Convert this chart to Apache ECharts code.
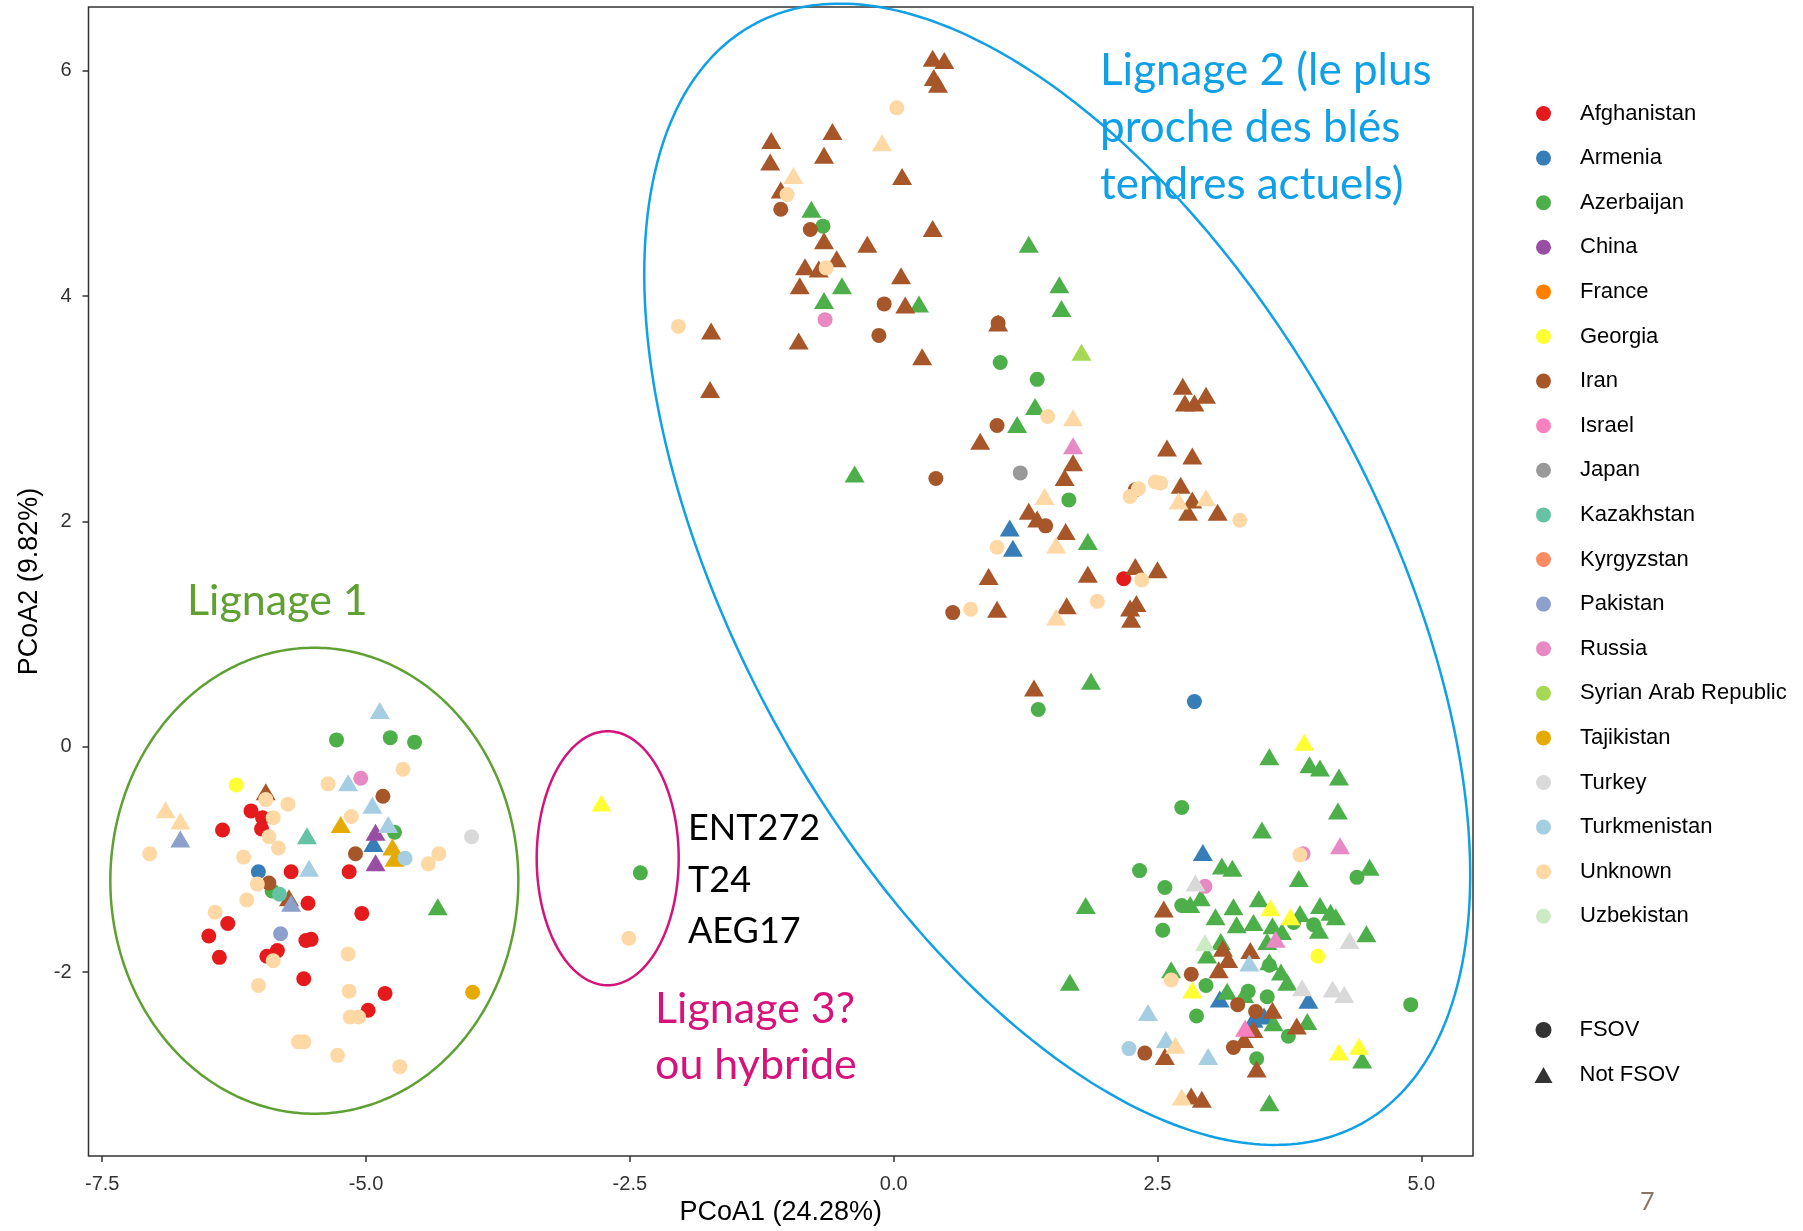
<!DOCTYPE html>
<html>
<head>
<meta charset="utf-8">
<script src="https://cdn.jsdelivr.net/npm/echarts@6/dist/echarts.min.js"></script>
<style>
  html, body { margin: 0; padding: 0; background: #fff; }
  #chart { width: 1803px; height: 1231px; }
</style>
</head>
<body>
<div id="chart"></div>
<script>
// PCoA scores: [PCoA1, PCoA2, notFsov] (0 = FSOV circle, 1 = Not FSOV triangle)
const afghanistan = [[-6.36,-0.74,0],[-6.09,-0.57,0],[-5.98,-0.63,0],[-5.99,-0.73,0],[-5.71,-1.11,0],[-5.16,-1.11,0],
  [-5.55,-1.39,0],[-5.04,-1.48,0],[-6.31,-1.57,0],[-6.49,-1.68,0],[-5.57,-1.72,0],[-5.52,-1.71,0],[-6.39,-1.87,0],
  [-5.84,-1.81,0],[-5.94,-1.86,0],[-5.59,-2.06,0],[-4.82,-2.19,0],[-4.98,-2.34,0],[2.18,1.49,0]];
const armenia = [[-6.02,-1.11,0],[-4.93,-0.86,1],[1.10,1.94,1],[1.13,1.76,1],[2.85,0.40,0],[2.93,-0.94,1],
  [3.09,-2.24,1],[3.93,-2.25,1],[3.41,-2.42,1],[3.51,-2.39,1]];
const azerbaijan = [[-5.28,0.06,0],[-4.77,0.08,0],[-4.54,0.04,0],[-4.73,-0.76,0],[-5.89,-1.28,0],[-2.40,-1.12,0],
  [-0.67,4.62,0],[1.01,3.41,0],[1.36,3.26,0],[1.66,2.19,0],[1.37,0.33,0],[2.73,-0.54,0],[2.33,-1.10,0],[2.57,-1.25,0],
  [2.73,-1.41,0],[2.55,-1.63,0],[2.96,-2.12,0],[2.87,-2.39,0],[4.39,-1.16,0],[3.79,-1.56,0],[3.98,-1.58,0],
  [3.56,-1.94,0],[4.90,-2.29,0],[3.54,-2.22,0],[3.36,-2.17,0],[3.74,-2.57,0],[3.44,-2.77,0],
  [-4.32,-1.42,1],[-0.78,4.77,1],[-0.49,4.09,1],[-0.66,3.96,1],[0.24,3.93,1],[1.28,4.46,1],[1.34,3.02,1],
  [1.17,2.86,1],[-0.37,2.42,1],[1.57,4.10,1],[1.59,3.89,1],[1.84,1.82,1],[1.87,0.58,1],[3.11,-1.06,1],
  [3.21,-1.08,1],[1.82,-1.41,1],[2.81,-1.40,1],[2.91,-1.34,1],[3.05,-1.51,1],[3.22,-1.42,1],[3.25,-1.58,1],
  [3.10,-1.73,1],[2.97,-1.85,1],[2.63,-1.98,1],[3.16,-2.17,1],[1.67,-2.09,1],[3.56,-0.09,1],[3.94,-0.16,1],
  [4.04,-0.19,1],[4.22,-0.27,1],[4.21,-0.57,1],[3.49,-0.74,1],[4.51,-1.07,1],[3.84,-1.17,1],[3.46,-1.35,1],
  [4.04,-1.41,1],[4.14,-1.47,1],[4.19,-1.51,1],[3.85,-1.48,1],[3.41,-1.56,1],[3.59,-1.59,1],[3.68,-1.64,1],
  [4.03,-1.63,1],[3.54,-1.73,1],[4.48,-1.66,1],[3.56,-1.91,1],[3.67,-2.00,1],[3.73,-2.09,1],[3.32,-2.20,1],
  [3.60,-2.45,1],[3.92,-2.44,1],[3.56,-3.16,1],[4.44,-2.78,1]];
const china = [[-4.91,-0.76,1],[-4.91,-1.03,1]];
const france = [];
const georgia = [[-6.23,-0.34,0],[-2.77,-0.50,1],[2.83,-2.16,1],[3.89,0.04,1],[3.57,-1.43,1],[3.76,-1.51,1],
  [4.22,-2.71,1],[4.41,-2.66,1],[4.02,-1.86,0]];
const iran = [[-4.84,-0.44,0],[-5.10,-0.95,0],[-5.92,-1.21,0],[-1.07,4.77,0],[-0.79,4.59,0],[-0.09,3.93,0],
  [-0.14,3.65,0],[0.99,3.76,0],[0.98,2.85,0],[0.40,2.38,0],[1.44,1.96,0],[2.29,2.28,0],[0.56,1.19,0],
  [2.82,-2.02,0],[2.38,-2.72,0],[3.22,-2.67,0],[3.26,-2.29,0],[3.43,-2.35,0],
  [-5.95,-0.40,1],[-5.73,-1.34,1],[0.37,6.11,1],[0.48,6.09,1],[0.38,5.94,1],[0.42,5.88,1],[-0.58,5.46,1],
  [-1.16,5.38,1],[-0.66,5.25,1],[-1.17,5.19,1],[0.08,5.06,1],[-1.07,4.94,1],[-0.66,4.49,1],[0.37,4.60,1],
  [-0.25,4.46,1],[-0.54,4.33,1],[-0.84,4.26,1],[-0.71,4.24,1],[-0.89,4.09,1],[0.07,4.18,1],[0.11,3.92,1],
  [-1.73,3.69,1],[-0.90,3.60,1],[0.99,3.76,1],[0.27,3.46,1],[-1.74,3.17,1],[0.82,2.71,1],[1.70,2.52,1],
  [1.62,2.39,1],[1.28,2.09,1],[1.36,2.02,1],[1.63,1.91,1],[2.74,3.20,1],[2.96,3.12,1],[2.76,3.05,1],
  [2.85,3.05,1],[2.59,2.65,1],[2.83,2.58,1],[2.72,2.32,1],[2.83,2.19,1],[2.79,2.08,1],[3.07,2.08,1],
  [2.29,1.60,1],[2.50,1.57,1],[1.84,1.53,1],[0.90,1.51,1],[0.98,1.22,1],[1.64,1.25,1],[2.30,1.27,1],
  [2.24,1.23,1],[2.25,1.13,1],[1.33,0.52,1],[2.56,-1.44,1],[3.12,-1.79,1],[3.17,-1.89,1],[3.08,-1.98,1],
  [2.57,-2.75,1],[2.82,-3.10,1],[2.92,-3.13,1],[3.38,-1.81,1],[3.59,-2.34,1],[3.41,-2.51,1],[3.82,-2.48,1],
  [3.32,-2.60,1],[3.44,-2.86,1]];
const israel = [[3.33,-2.50,1]];
const japan = [[1.20,2.43,0]];
const kazakhstan = [[-5.56,-0.79,1],[-5.82,-1.31,0]];
const kyrgyzstan = [];
const pakistan = [[-6.76,-0.82,1],[-5.71,-1.39,1],[-5.81,-1.66,0]];
const russia = [[-5.05,-0.28,0],[-0.65,3.79,0],[1.70,2.67,1],[4.23,-0.88,1],[2.95,-1.24,0],[3.88,-0.95,0],[3.62,-1.71,1]];
const syria = [[1.78,3.50,1]];
const tajikistan = [[-5.24,-0.69,1],[-4.75,-0.89,1],[-4.73,-0.99,1],[-3.99,-2.18,0]];
const turkey = [[-4.00,-0.80,0],[2.86,-1.21,1],[4.32,-1.72,1],[3.87,-2.14,1],[4.16,-2.15,1],[4.27,-2.20,1]];
const turkmenistan = [[-4.87,0.32,1],[-5.17,-0.32,1],[-4.94,-0.52,1],[-4.79,-0.69,1],[-4.63,-0.99,0],[-5.54,-1.08,1],
  [2.41,-2.36,1],[2.23,-2.68,0],[2.58,-2.60,1],[2.98,-2.75,1],[3.37,-1.92,1]];
const unknown = [[-4.65,-0.20,0],[-5.74,-0.51,0],[-5.36,-0.33,0],[-7.05,-0.95,0],[-5.88,-0.63,0],[-5.95,-0.47,0],
  [-5.92,-0.80,0],[-5.83,-0.90,0],[-6.16,-0.98,0],[-5.14,-0.62,0],[-4.31,-0.95,0],[-4.41,-1.04,0],[-6.03,-1.22,0],
  [-6.13,-1.36,0],[-6.43,-1.47,0],[-5.88,-1.90,0],[-5.17,-1.84,0],[-6.02,-2.12,0],[-5.16,-2.17,0],[-5.15,-2.40,0],
  [-5.07,-2.40,0],[-5.64,-2.62,0],[-5.59,-2.62,0],[-5.27,-2.74,0],[-4.68,-2.84,0],[-2.51,-1.70,0],[0.03,5.67,0],
  [-1.01,4.90,0],[-0.64,4.25,0],[-2.04,3.73,0],[1.46,2.93,0],[2.32,2.29,0],[2.24,2.22,0],[2.48,2.35,0],
  [2.53,2.34,0],[3.28,2.01,0],[2.35,1.48,0],[0.73,1.22,0],[1.93,1.29,0],[0.98,1.77,0],[2.63,-2.07,0],[3.85,-0.96,0],
  [-6.90,-0.56,1],[-6.76,-0.66,1],[-0.11,5.36,1],[-0.95,5.07,1],[1.70,2.92,1],[1.43,2.22,1],[1.54,1.79,1],
  [2.70,2.18,1],[2.96,2.21,1],[1.54,1.15,1],[2.67,-2.65,1],[2.73,-3.11,1]];
const uzbekistan = [[2.95,-1.74,1]];

const countries = ['Afghanistan', 'Armenia', 'Azerbaijan', 'China', 'France', 'Georgia', 'Iran', 'Israel',
  'Japan', 'Kazakhstan', 'Kyrgyzstan', 'Pakistan', 'Russia', 'Syrian Arab Republic', 'Tajikistan', 'Turkey',
  'Turkmenistan', 'Unknown', 'Uzbekistan'];
const countryData = [afghanistan, armenia, azerbaijan, china, france, georgia, iran, israel, japan, kazakhstan,
  kyrgyzstan, pakistan, russia, syria, tajikistan, turkey, turkmenistan, unknown, uzbekistan];
const colors = ['#E41A1C', '#377EB8', '#4DAF4A', '#984EA3', '#FF7F00', '#FFFF33', '#A65628', '#F781BF',
  '#999999', '#66C2A5', '#FC8D62', '#8DA0CB', '#E78AC3', '#A6D854', '#E6AB02', '#D9D9D9',
  '#A6CEE3', '#FED9A6', '#CCEBC5'];
const shapeNames = ['FSOV', 'Not FSOV'];

const xTicks = [-7.5, -5, -2.5, 0, 2.5, 5];
const yTicks = [-2, 0, 2, 4, 6];

const chart = echarts.init(document.getElementById('chart'), null, { renderer: 'canvas' });

const series = countries.map(function (name, i) {
  return {
    type: 'scatter',
    name: name,
    data: countryData[i],
    symbol: function (v) { return v[2] ? 'triangle' : 'circle'; },
    symbolSize: function (v) { return v[2] ? [20, 17] : 15; },
    itemStyle: { color: colors[i], opacity: 1 },
    emphasis: { disabled: true },
    silent: true
  };
});
shapeNames.forEach(function (name) {
  series.push({ type: 'scatter', name: name, data: [], itemStyle: { color: '#000' } });
});

const tickFont = { color: '#333', fontSize: 20, fontFamily: 'Liberation Sans' };

chart.setOption({
  animation: false,
  backgroundColor: '#fff',
  grid: {
    left: 88.5, right: 330, top: 7, bottom: 69,
    show: true, borderColor: '#333', borderWidth: 1.5, backgroundColor: '#fff'
  },
  xAxis: {
    type: 'value', min: -7.63, max: 5.49,
    name: 'PCoA1 (24.28%)', nameLocation: 'middle', nameGap: 41,
    nameTextStyle: { color: '#000', fontSize: 27, fontFamily: 'Liberation Sans' },
    axisLine: { show: false, onZero: false },
    axisTick: { show: true, length: 6, customValues: xTicks, lineStyle: { color: '#333', width: 1.5 } },
    axisLabel: Object.assign({ margin: 18, customValues: xTicks, formatter: function (v) { return v.toFixed(1); } }, tickFont),
    splitLine: { show: false }
  },
  yAxis: {
    type: 'value', min: -3.634, max: 6.565,
    name: 'PCoA2 (9.82%)', nameLocation: 'middle', nameGap: 44, nameRotate: 90,
    nameTextStyle: { color: '#000', fontSize: 27, fontFamily: 'Liberation Sans' },
    axisLine: { show: false, onZero: false },
    axisTick: { show: true, length: 6, customValues: yTicks, lineStyle: { color: '#333', width: 1.5 } },
    axisLabel: Object.assign({ margin: 17, customValues: yTicks }, tickFont),
    splitLine: { show: false }
  },
  legend: [{
    data: countries, icon: 'circle', orient: 'vertical',
    left: 1531, top: 96.5, itemWidth: 15, itemHeight: 15, itemGap: 20.6,
    selectedMode: false,
    textStyle: { color: '#000', fontSize: 22, fontFamily: 'Liberation Sans', lineHeight: 24, padding: [0, 0, 0, 24] }
  }, {
    data: [{ name: 'FSOV', icon: 'circle' }, { name: 'Not FSOV', icon: 'triangle' }], orient: 'vertical',
    left: 1529.5, top: 1013, itemWidth: 18, itemHeight: 16, itemGap: 21,
    selectedMode: false,
    textStyle: { color: '#000', fontSize: 22, fontFamily: 'Liberation Sans', lineHeight: 24, padding: [0, 0, 0, 22] }
  }],
  series: series
});

// hand-drawn group outlines: centre in data units, radii in pixels, tilt in degrees
const outlines = [
  { center: [-5.49, -1.19], rx: 204, ry: 233, tilt: 0, color: '#5fa033' },
  { center: [-2.71, -0.99], rx: 71, ry: 127, tilt: 0, color: '#d6137a' },
  { center: [1.55, 1.53], rx: 628, ry: 319, tilt: 61, color: '#0fa0e6' }
];

function ellipse(o) {
  const c = chart.convertToPixel({ gridIndex: 0 }, o.center);
  const t = o.tilt * Math.PI / 180;
  const pts = [];
  for (let k = 0; k < 360; k++) {
    const a = k * Math.PI / 180;
    const ex = o.rx * Math.cos(a), ey = o.ry * Math.sin(a);
    pts.push([c[0] + ex * Math.cos(t) - ey * Math.sin(t), c[1] + ex * Math.sin(t) + ey * Math.cos(t)]);
  }
  return {
    type: 'polygon', silent: true, z: 50,
    shape: { points: pts },
    style: { fill: 'none', stroke: o.color, lineWidth: 2.5 }
  };
}

function label(text, x, y, size, color) {
  return {
    type: 'text', x: x, y: y, silent: true, z: 60,
    style: { text: text, fill: color, font: size + 'px Lato', verticalAlign: 'middle' }
  };
}

chart.setOption({
  graphic: outlines.map(ellipse).concat([
    label('Lignage 1', 187, 601, 43, '#5fa033'),
    label('Lignage 2 (le plus', 1100, 71, 44, '#0fa0e6'),
    label('proche des blés', 1100, 128, 44, '#0fa0e6'),
    label('tendres actuels)', 1100, 185, 44, '#0fa0e6'),
    label('ENT272', 688, 828, 36, '#000'),
    label('T24', 688, 880, 36, '#000'),
    label('AEG17', 688, 931, 36, '#000'),
    label('Lignage 3?', 655, 1009, 43, '#d6137a'),
    label('ou hybride', 655, 1065, 43, '#d6137a'),
    label('7', 1640, 1202, 25, '#8a7669')
  ])
});
</script>
</body>
</html>
